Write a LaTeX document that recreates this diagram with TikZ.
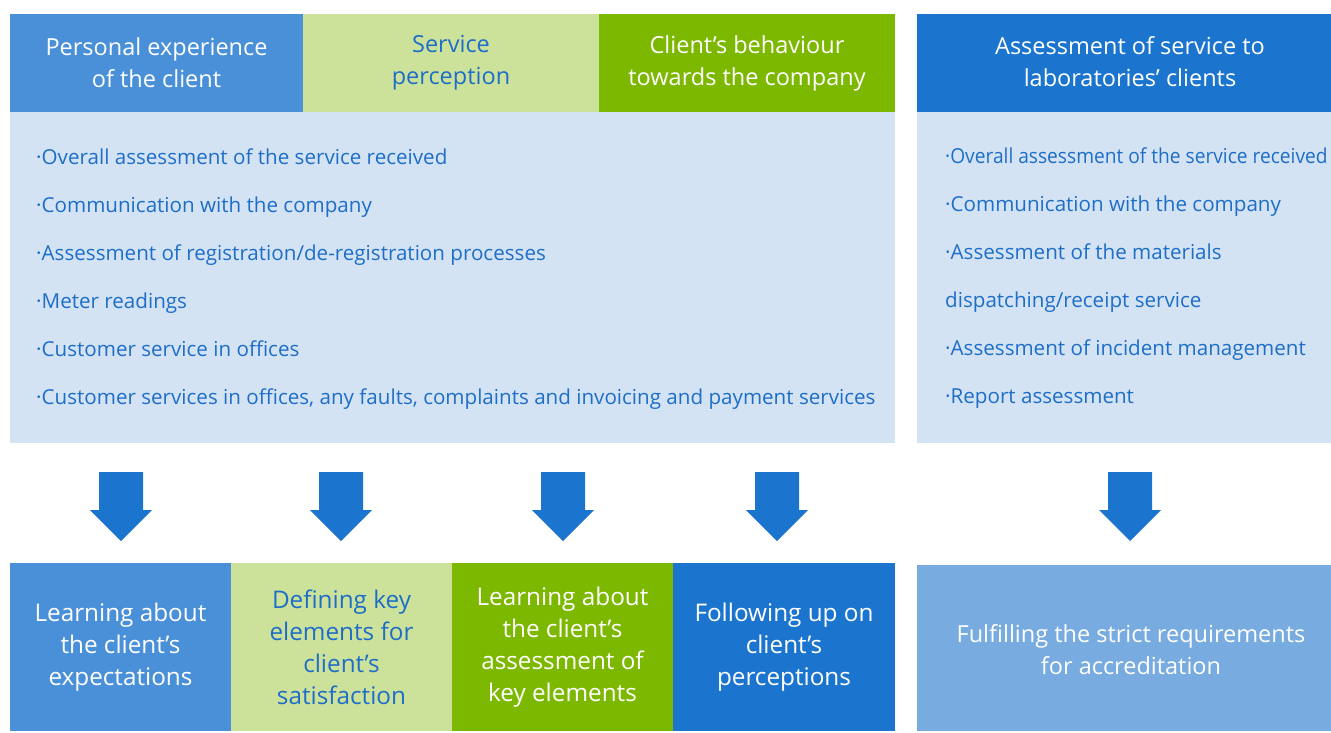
\documentclass[tikz,border=0pt]{standalone}
\usepackage{fontspec}
\usepackage{graphicx}
\setmainfont{Open Sans}
\definecolor{midblue}{HTML}{4A90D9}
\definecolor{palegreen}{HTML}{CCE29B}
\definecolor{leafgreen}{HTML}{7DB800}
\definecolor{deepblue}{HTML}{1B75CF}
\definecolor{paleblue}{HTML}{D3E3F4}
\definecolor{softblue}{HTML}{78ABE0}
\definecolor{txtblue}{HTML}{1E6EC8}
\begin{document}
\begin{tikzpicture}[x=1pt,y=-1pt,
  panel/.style={anchor=north west, inner sep=0pt, outer sep=0pt, draw=none, align=center, font=\fontsize{23.5}{32}\selectfont},
  lowpanel/.style={panel, font=\fontsize{24.3}{32}\selectfont},
  label/.style={inner sep=0pt, align=center},
  item/.style={anchor=base west, inner sep=0pt, text=txtblue, font=\fontsize{20.6}{25}\selectfont},
  blockarrow/.style={fill=deepblue}]
\useasboundingbox (0,0) rectangle (1331,732);
% headers
\node[panel, fill=midblue, text=white, minimum width=293pt, minimum height=98pt] (h1) at (10,14) {Personal experience\\of the client};
\node[panel, fill=palegreen, text=txtblue, minimum width=296pt, minimum height=98pt] (h2) at (303,14) {Service\\perception};
\node[panel, fill=leafgreen, text=white, minimum width=296pt, minimum height=98pt] (h3) at (599,14) {Client’s behaviour\\towards the company};
\node[panel, fill=deepblue, minimum width=414pt, minimum height=98pt] (h4) at (917,14) {};
\node[label, text=white, font=\fontsize{23.5}{32}\selectfont] (h4t) at (1130,62) {Assessment of service to\\laboratories’ clients};
% list panels
\node[panel, fill=paleblue, minimum width=885pt, minimum height=331pt] (lst) at (10,112) {};
\node[panel, fill=paleblue, minimum width=414pt, minimum height=331pt] (lstb) at (917,112) {};
\foreach \t [count=\i] in {{Overall assessment of the service received},{Communication with the company},{Assessment of registration/de-registration processes},{Meter readings},{Customer service in offices},{Customer services in offices, any faults, complaints and invoicing and payment services}}
  \node[item] (la\i) at (36,{164+48*(\i-1)}) {·\t};
\node[item] (lb1) at (945,163) {\scalebox{0.93}[1]{·Overall assessment of the service received}};
\foreach \t [count=\i from 2] in {{·Communication with the company},{·Assessment of the materials},{dispatching/receipt service},{·Assessment of incident management},{·Report assessment}}
  \node[item] (lb\i) at (945,{163+48*(\i-1)}) {\t};
% arrows
\foreach \c in {121,341,563,777,1130}
  \fill[blockarrow] (\c-22,472) -- (\c+22,472) -- (\c+22,510) -- (\c+31,510) -- (\c,541) -- (\c-31,510) -- (\c-22,510) -- cycle;
% bottom boxes
\node[lowpanel, fill=midblue, text=white, minimum width=221pt, minimum height=168pt] (b1) at (10,563) {Learning about\\the client’s\\expectations};
\node[lowpanel, fill=palegreen, text=txtblue, minimum width=221pt, minimum height=168pt] (b2) at (231,563) {Defining key\\elements for\\client’s\\satisfaction};
\node[lowpanel, fill=leafgreen, text=white, minimum width=221pt, minimum height=168pt] (b3) at (452,563) {Learning about\\the client’s\\assessment of\\key elements};
\node[lowpanel, fill=deepblue, text=white, minimum width=222pt, minimum height=168pt] (b4) at (673,563) {Following up on\\client’s\\perceptions};
\node[lowpanel, fill=softblue, minimum width=414pt, minimum height=166pt] (b5) at (917,565) {};
\node[label, text=white, font=\fontsize{23.5}{32}\selectfont] (b5t) at (1131,650) {Fulfilling the strict requirements\\for accreditation};
\end{tikzpicture}
\end{document}
